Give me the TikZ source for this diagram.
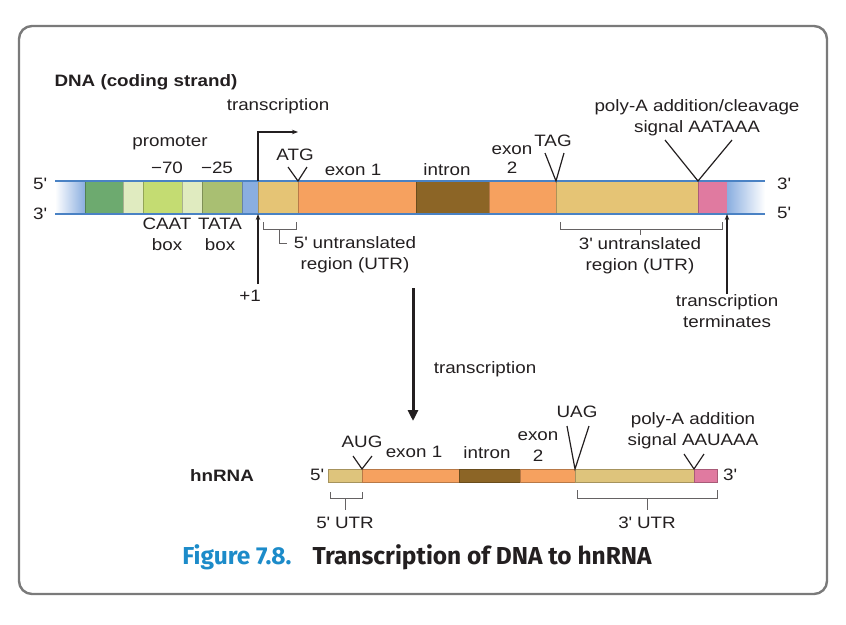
\documentclass[tikz,border=0pt]{standalone}
\usepackage{fontspec}
\setmainfont[FakeStretch=1.14]{Liberation Sans}
\newfontfamily\capfont{Fira Sans}
\usetikzlibrary{positioning,arrows.meta}
\definecolor{ink}{HTML}{231F20}
\definecolor{frame}{HTML}{7A7A7A}
\definecolor{figblue}{HTML}{1C8BC9}
\definecolor{strand}{HTML}{4A82C4}
\definecolor{dnablue}{HTML}{8AAEE0}
\definecolor{dkgreen}{HTML}{6DAA6F}
\definecolor{palegreen}{HTML}{E0EBC0}
\definecolor{caatgreen}{HTML}{C4DC72}
\definecolor{tatagreen}{HTML}{A9BF72}
\definecolor{utrtan}{HTML}{E5C475}
\definecolor{rnatan}{HTML}{DEC47C}
\definecolor{exorange}{HTML}{F6A15F}
\definecolor{inbrown}{HTML}{8C6526}
\definecolor{papink}{HTML}{E07AA0}
\newcommand{\apos}{\textquotesingle}
\begin{document}
\begin{tikzpicture}[x=1pt, y=-1pt,
  every node/.style = {font=\fontsize{16.5}{21}\selectfont, text=ink,
    align=center, inner sep=0pt},
  seg/.style = {draw=#1!75!black, fill=#1, line width=.4pt,
    minimum height=33pt, outer sep=0pt},
  fadeseg/.style = {minimum height=33pt, outer sep=0pt},
  rseg/.style = {draw=#1!75!black, fill=#1, line width=.5pt,
    minimum height=13pt, outer sep=0pt},
  vmark/.style = {draw=ink, line width=1.2pt},
  brace/.style = {draw=ink!70, line width=.8pt},
  ptr/.style = {draw=ink, line width=1.1pt, -{Stealth[length=6pt,width=4.5pt]}},
  bigptr/.style = {draw=ink, line width=3pt, -{Triangle[length=11pt,width=10pt]}}]
  \useasboundingbox (0,0) rectangle (846,624);
  \draw[frame, line width=2.4pt, rounded corners=13pt] (19,26) rectangle (827,594);

  % DNA coding strand
  \node[fadeseg, left color=white, right color=dnablue, minimum width=30pt,
    anchor=west] (fadeL) at (55,197.5) {};
  \foreach \name/\w/\col [remember=\name as \prev (initially fadeL)] in
    {gA/38/dkgreen, pA/20/palegreen, caat/39/caatgreen, pB/20/palegreen,
     tata/40/tatagreen, bl/16/dnablue, utrL/40/utrtan, exA/118/exorange,
     intr/73/inbrown, exB/67/exorange, utrR/142/utrtan, pa/29/papink}
    \node[seg=\col, minimum width=\w pt, right=0pt of \prev] (\name) {};
  \node[fadeseg, left color=dnablue, right color=white, minimum width=38pt,
    right=0pt of pa] (fadeR) {};
  \draw[strand, line width=1.2pt] (fadeL.north west) -- (fadeR.north east)
    (fadeL.south west) -- (fadeR.south east);

  \node (dnaTitle) at (146,82) {\bfseries DNA (coding strand)};
  \node (end5L) at (40,184) {5\apos};
  \node (end3L) at (40,214) {3\apos};
  \node (end3R) at (784,184) {3\apos};
  \node (end5R) at (784,213) {5\apos};
  \node (txLabel) at (278,106) {transcription};
  \node (promoter) at (170,143) {promoter};
  \node (m70) at (167,168) {−70};
  \node (m25) at (217,168) {−25};
  \node (caatLbl) at (167,234) {CAAT\\box};
  \node (tataLbl) at (220,234) {TATA\\box};
  \node (atg) at (295,155) {ATG};
  \node (ex1Lbl) at (353,170) {exon 1};
  \node (intrLbl) at (447,170) {intron};
  \node (ex2Lbl) at (512,160) {exon\\[-2pt]2};
  \node (tag) at (553,141) {TAG};
  \node (polyA) at (697,118) {poly-A addition/cleavage\\signal AATAAA};
  \node (utr5Lbl) at (355,255) {5\apos{} untranslated\\region (UTR)};
  \node (utr3Lbl) at (640,256) {3\apos{} untranslated\\region (UTR)};
  \node (plus1) at (250,296) {+1};
  \node (term) at (727,311) {transcription\\terminates};

  \coordinate (txStart) at (298,132);
  \coordinate (plus1Tail) at (258,284);
  \draw[ptr] (utrL.north west) |- (txStart);
  \draw[ptr] (plus1Tail) -- (utrL.south west);
  \draw[ptr] (term.north) -- (pa.south east);
  \draw[vmark] (utrL.north east) ++(-10,-14) -- (utrL.north east) -- ++(9,-14);
  \draw[vmark] (exB.north east) ++(-11,-28) -- (exB.north east) -- ++(8,-28);
  \draw[vmark] (utrR.north east) ++(-33,-41) -- (utrR.north east) -- ++(34,-41);
  \draw[brace] (263,222) -- (263,229) -- (296,229) -- (296,222)
    (279.5,229) |- (287,243);
  \draw[brace] (560,222) -- (560,229) -- (722,229) -- (722,222)
    (640,229) -- (640,235);

  % transcription step
  \coordinate (dnaOut) at (413,288);
  \coordinate (rnaIn) at (413,421);
  \draw[bigptr] (dnaOut) -- (rnaIn);
  \node (txStep) at (485,369) {transcription};

  % hnRNA
  \node[rseg=rnatan, minimum width=34pt, anchor=west] (r5) at (328,475.5) {};
  \foreach \name/\w/\col [remember=\name as \prev (initially r5)] in
    {rexA/97/exorange, rint/61/inbrown, rexB/55/exorange, r3/119/rnatan,
     rpa/23/papink}
    \node[rseg=\col, minimum width=\w pt, right=0pt of \prev] (\name) {};

  \node (rnaTitle) at (222,476) {\bfseries hnRNA};
  \node (rEnd5) at (317,475) {5\apos};
  \node (rEnd3) at (730,475) {3\apos};
  \node (aug) at (362,442) {AUG};
  \node (rEx1Lbl) at (414,452) {exon 1};
  \node (rIntrLbl) at (487,453) {intron};
  \node (rEx2Lbl) at (538,447) {exon\\2};
  \node (uag) at (577,412) {UAG};
  \node (rPolyA) at (693,431) {poly-A addition\\signal AAUAAA};
  \node (rUtr5Lbl) at (345,523) {5\apos{} UTR};
  \node (rUtr3Lbl) at (647,523) {3\apos{} UTR};

  \draw[vmark] (r5.north east) ++(-9,-13) -- (r5.north east) -- ++(10,-13);
  \draw[vmark] (rexB.north east) ++(-8,-43) -- (rexB.north east) -- ++(14,-43);
  \draw[vmark] (r3.north east) ++(-10,-15) -- (r3.north east) -- ++(10,-15);
  \draw[brace] (330,492) -- (330,498) -- (362,498) -- (362,492)
    (345,498) -- (345,510);
  \draw[brace] (577,490) -- (577,498) -- (717,498) -- (717,490)
    (647,498) -- (647,510);

  \node (caption) at (417,557) {\capfont\bfseries\fontsize{24.5}{28}\selectfont
    \textcolor{figblue}{Figure 7.8.}\hspace{21pt}Transcription of DNA to hnRNA};
\end{tikzpicture}
\end{document}
